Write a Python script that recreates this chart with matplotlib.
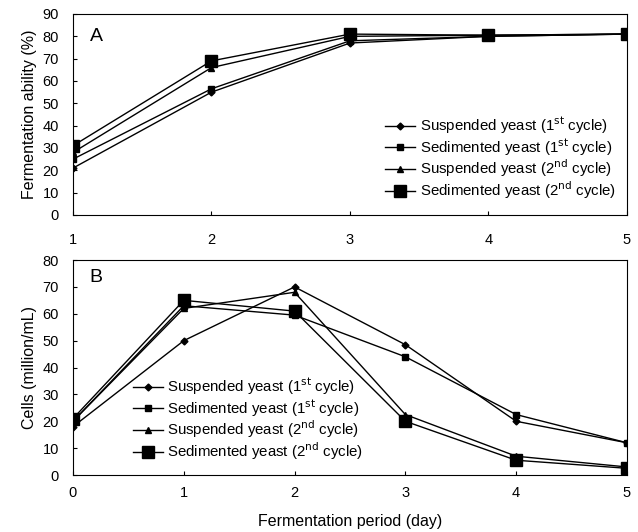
import matplotlib
matplotlib.use("Agg")
import matplotlib.pyplot as plt

plt.rcParams['font.family'] = ['Liberation Sans', 'DejaVu Sans']

# Panel A data
days_a = [1, 2, 3, 4, 5]
susp1_a = [21, 55, 77, 80, 81]
sedi1_a = [25, 56.5, 78, 80, 81]
susp2_a = [28, 66, 80, 80.5, 81]
sedi2_a = [31, 69, 81, 80.5, 81]

# Panel B data
days_b = [0, 1, 2, 3, 4, 5]
susp1_b = [18, 50, 70, 48.5, 20, 12]
sedi1_b = [20, 63, 59.5, 44, 22.5, 12]
susp2_b = [20, 62, 68, 22.5, 7, 3]
sedi2_b = [21, 65, 61, 20, 5.5, 2.5]

labels = ["Suspended yeast (1$^{\\mathrm{st}}$ cycle)",
          "Sedimented yeast (1$^{\\mathrm{st}}$ cycle)",
          "Suspended yeast (2$^{\\mathrm{nd}}$ cycle)",
          "Sedimented yeast (2$^{\\mathrm{nd}}$ cycle)"]
styles = [dict(marker='D', ms=3.5), dict(marker='s', ms=4.5),
          dict(marker='^', ms=5), dict(marker='s', ms=8)]

fig = plt.figure(figsize=(6.38, 5.32), dpi=100)
axA = fig.add_axes([0.1144, 0.5959, 0.8683, 0.3778])
axB = fig.add_axes([0.1144, 0.1071, 0.8683, 0.4041])

for ax, x, series in [(axA, days_a, [susp1_a, sedi1_a, susp2_a, sedi2_a]),
                      (axB, days_b, [susp1_b, sedi1_b, susp2_b, sedi2_b])]:
    for y, lab, st in zip(series, labels, styles):
        ax.plot(x, y, color='black', lw=1.0, mfc='black', mec='black', label=lab, **st)
    for sp in ax.spines.values():
        sp.set_linewidth(0.8)
    ax.tick_params(direction='in', length=3, width=0.8, labelsize=10.5)
    ax.tick_params(axis='y', pad=10)

axA.tick_params(axis='x', pad=13)
axB.tick_params(axis='x', pad=8)

leg_kw = dict(frameon=False, fontsize=10.8, handlelength=2.0, handletextpad=0.3,
              labelspacing=0.0, borderaxespad=0.0, borderpad=0.0)

axA.set_xlim(1, 5)
axA.set_ylim(0, 90)
axA.set_xticks(days_a)
axA.set_yticks(range(0, 91, 10))
axA.set_ylabel("Fermentation ability (%)", fontsize=11.5)
axA.text(0.03, 0.93, "A", transform=axA.transAxes, fontsize=14, va='top')
axA.legend(loc='lower right', bbox_to_anchor=(0.98, 0.07), **leg_kw)

axB.set_xlim(0, 5)
axB.set_ylim(0, 80)
axB.set_xticks(days_b)
axB.set_yticks(range(0, 81, 10))
axB.set_ylabel("Cells (million/mL)", fontsize=11.5)
axB.set_xlabel("Fermentation period (day)", fontsize=11.5, labelpad=10)
axB.text(0.03, 0.96, "B", transform=axB.transAxes, fontsize=14, va='top')
axB.legend(loc='lower left', bbox_to_anchor=(0.108, 0.06), **leg_kw)

fig.savefig("out.png", dpi=100)
